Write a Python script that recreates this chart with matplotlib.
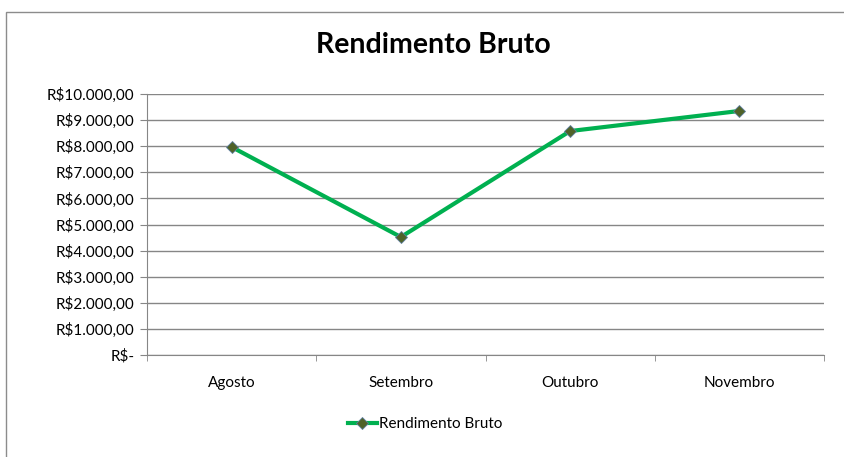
import numpy as np
import matplotlib
matplotlib.use("Agg")
import matplotlib.pyplot as plt
from matplotlib.patches import Rectangle
from matplotlib.ticker import FuncFormatter, FixedLocator

meses = ["Agosto", "Setembro", "Outubro", "Novembro"]
rendimento = [7970, 4520, 8580, 9350]
y_ticks = list(range(0, 10001, 1000))

plt.rcParams["font.family"] = ["Lato", "DejaVu Sans"]

fig = plt.figure(figsize=(8.44, 4.57), dpi=100)

# outer chart frame
fig.patches.append(Rectangle((6 / 844, -0.05), 1.0, 1 - 12 / 457 + 0.05,
                             transform=fig.transFigure, fill=False,
                             edgecolor="#8c8c8c", lw=1.0))

ax = fig.add_axes([147 / 844, 102 / 457, 677 / 844, 261 / 457])
x = np.arange(len(meses))
ax.plot(x, rendimento, "-", color="#00B050", lw=3, marker="D", markersize=6,
        markerfacecolor="#4F6228", markeredgecolor="#5f7fa0", markeredgewidth=0.6,
        label="Rendimento Bruto", zorder=3)

ax.set_xlim(-0.5, len(meses) - 0.5)
ax.set_ylim(0, 10000)
ax.set_yticks(y_ticks)


def brl(v, pos):
    if v == 0:
        return "R$-"
    s = f"{v:,.2f}".replace(",", "X").replace(".", ",").replace("X", ".")
    return "R$" + s


ax.yaxis.set_major_formatter(FuncFormatter(brl))
ax.set_xticks(x)
ax.set_xticklabels(meses)
ax.xaxis.set_minor_locator(FixedLocator(np.arange(-0.5, len(meses), 1.0)))
ax.tick_params(axis="x", which="major", length=0, pad=15, labelsize=11)
ax.tick_params(axis="x", which="minor", length=4, color="#868686")
ax.tick_params(axis="y", length=5, color="#868686", labelsize=11, pad=4)

ax.grid(axis="y", color="#868686", lw=1)
ax.set_axisbelow(True)
for side in ("top", "right"):
    ax.spines[side].set_visible(False)
for side in ("left", "bottom"):
    ax.spines[side].set_color("#868686")

fig.text(433 / 844, 1 - 45 / 457, "Rendimento Bruto", ha="center", va="center",
         fontsize=20.5, fontweight="bold")

fig.legend(loc="center", bbox_to_anchor=(425 / 844, 1 - 424 / 457), frameon=False,
           fontsize=11, handlelength=1.9, handletextpad=0.15)

fig.savefig("out.png", dpi=100)
